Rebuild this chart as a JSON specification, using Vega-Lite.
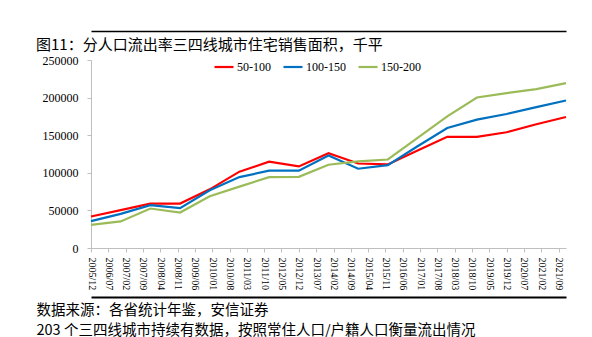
{
  "$schema": "https://vega.github.io/schema/vega-lite/v6.json",
  "autosize": "none",
  "width": 475,
  "height": 188,
  "padding": {"left": 91, "top": 60, "right": 26, "bottom": 89},
  "background": "white",
  "config": {"view": {"stroke": null}},
  "title": {
    "text": "图11：分人口流出率三四线城市住宅销售面积，千平",
    "anchor": "start",
    "frame": "group",
    "dx": -55,
    "offset": -34,
    "baseline": "alphabetic",
    "font": "Noto Sans CJK SC",
    "fontSize": 15,
    "fontWeight": "normal",
    "color": "#000000"
  },
  "data": {
    "values": [
      {"date": "2005-12-01", "series": "50-100", "value": 41900},
      {"date": "2006-12-01", "series": "50-100", "value": 50300},
      {"date": "2007-12-01", "series": "50-100", "value": 59100},
      {"date": "2008-12-01", "series": "50-100", "value": 59100},
      {"date": "2009-12-01", "series": "50-100", "value": 78000},
      {"date": "2010-12-01", "series": "50-100", "value": 101500},
      {"date": "2011-12-01", "series": "50-100", "value": 114700},
      {"date": "2012-12-01", "series": "50-100", "value": 108500},
      {"date": "2013-12-01", "series": "50-100", "value": 126100},
      {"date": "2014-12-01", "series": "50-100", "value": 112400},
      {"date": "2015-12-01", "series": "50-100", "value": 111100},
      {"date": "2016-12-01", "series": "50-100", "value": 129600},
      {"date": "2017-12-01", "series": "50-100", "value": 147800},
      {"date": "2018-12-01", "series": "50-100", "value": 147800},
      {"date": "2019-12-01", "series": "50-100", "value": 153900},
      {"date": "2020-12-01", "series": "50-100", "value": 164500},
      {"date": "2021-12-01", "series": "50-100", "value": 174200},
      {"date": "2005-12-01", "series": "100-150", "value": 35700},
      {"date": "2006-12-01", "series": "100-150", "value": 45400},
      {"date": "2007-12-01", "series": "100-150", "value": 56900},
      {"date": "2008-12-01", "series": "100-150", "value": 52900},
      {"date": "2009-12-01", "series": "100-150", "value": 76700},
      {"date": "2010-12-01", "series": "100-150", "value": 94300},
      {"date": "2011-12-01", "series": "100-150", "value": 102800},
      {"date": "2012-12-01", "series": "100-150", "value": 102800},
      {"date": "2013-12-01", "series": "100-150", "value": 123000},
      {"date": "2014-12-01", "series": "100-150", "value": 105400},
      {"date": "2015-12-01", "series": "100-150", "value": 110200},
      {"date": "2016-12-01", "series": "100-150", "value": 135300},
      {"date": "2017-12-01", "series": "100-150", "value": 159600},
      {"date": "2018-12-01", "series": "100-150", "value": 170700},
      {"date": "2019-12-01", "series": "100-150", "value": 178200},
      {"date": "2020-12-01", "series": "100-150", "value": 187400},
      {"date": "2021-12-01", "series": "100-150", "value": 196200},
      {"date": "2005-12-01", "series": "150-200", "value": 30800},
      {"date": "2006-12-01", "series": "150-200", "value": 35300},
      {"date": "2007-12-01", "series": "150-200", "value": 52500},
      {"date": "2008-12-01", "series": "150-200", "value": 47200},
      {"date": "2009-12-01", "series": "150-200", "value": 68800},
      {"date": "2010-12-01", "series": "150-200", "value": 81600},
      {"date": "2011-12-01", "series": "150-200", "value": 94300},
      {"date": "2012-12-01", "series": "150-200", "value": 94700},
      {"date": "2013-12-01", "series": "150-200", "value": 110700},
      {"date": "2014-12-01", "series": "150-200", "value": 115100},
      {"date": "2015-12-01", "series": "150-200", "value": 117700},
      {"date": "2016-12-01", "series": "150-200", "value": 146400},
      {"date": "2017-12-01", "series": "150-200", "value": 175000},
      {"date": "2018-12-01", "series": "150-200", "value": 200200},
      {"date": "2019-12-01", "series": "150-200", "value": 206000},
      {"date": "2020-12-01", "series": "150-200", "value": 211300},
      {"date": "2021-12-01", "series": "150-200", "value": 219200}
    ]
  },
  "encoding": {
    "x": {
      "field": "date",
      "type": "temporal",
      "scale": {
        "type": "utc",
        "domain": [
          {"year": 2005, "month": 12, "date": 1, "utc": true},
          {"year": 2021, "month": 12, "date": 1, "utc": true}
        ]
      },
      "axis": {
        "values": [
          {"year": 2005, "month": 12, "date": 1, "utc": true},
          {"year": 2006, "month": 7, "date": 1, "utc": true},
          {"year": 2007, "month": 2, "date": 1, "utc": true},
          {"year": 2007, "month": 9, "date": 1, "utc": true},
          {"year": 2008, "month": 4, "date": 1, "utc": true},
          {"year": 2008, "month": 11, "date": 1, "utc": true},
          {"year": 2009, "month": 6, "date": 1, "utc": true},
          {"year": 2010, "month": 1, "date": 1, "utc": true},
          {"year": 2010, "month": 8, "date": 1, "utc": true},
          {"year": 2011, "month": 3, "date": 1, "utc": true},
          {"year": 2011, "month": 10, "date": 1, "utc": true},
          {"year": 2012, "month": 5, "date": 1, "utc": true},
          {"year": 2012, "month": 12, "date": 1, "utc": true},
          {"year": 2013, "month": 7, "date": 1, "utc": true},
          {"year": 2014, "month": 2, "date": 1, "utc": true},
          {"year": 2014, "month": 9, "date": 1, "utc": true},
          {"year": 2015, "month": 4, "date": 1, "utc": true},
          {"year": 2015, "month": 11, "date": 1, "utc": true},
          {"year": 2016, "month": 6, "date": 1, "utc": true},
          {"year": 2017, "month": 1, "date": 1, "utc": true},
          {"year": 2017, "month": 8, "date": 1, "utc": true},
          {"year": 2018, "month": 3, "date": 1, "utc": true},
          {"year": 2018, "month": 10, "date": 1, "utc": true},
          {"year": 2019, "month": 5, "date": 1, "utc": true},
          {"year": 2019, "month": 12, "date": 1, "utc": true},
          {"year": 2020, "month": 7, "date": 1, "utc": true},
          {"year": 2021, "month": 2, "date": 1, "utc": true},
          {"year": 2021, "month": 9, "date": 1, "utc": true}
        ],
        "format": "%Y/%m",
        "labelAngle": 90,
        "labelAlign": "left",
        "labelBaseline": "middle",
        "labelFont": "Liberation Serif",
        "labelFontSize": 10,
        "labelColor": "#000000",
        "labelPadding": 5,
        "labelOverlap": false,
        "labelFlush": false,
        "grid": false,
        "domainColor": "#bfbfbf",
        "tickColor": "#bfbfbf",
        "tickSize": 4,
        "title": ["数据来源：各省统计年鉴，安信证券", "203 个三四线城市持续有数据，按照常住人口/户籍人口衡量流出情况"],
        "titleFont": "Noto Sans CJK SC",
        "titleFontSize": 14.5,
        "titleFontWeight": "normal",
        "titleColor": "#000000",
        "titleAlign": "left",
        "titleAnchor": "start",
        "titleBaseline": "alphabetic",
        "titleX": -55,
        "titleY": 66,
        "titleLineHeight": 20
      }
    },
    "y": {
      "field": "value",
      "type": "quantitative",
      "scale": {"domain": [0, 250000], "nice": false, "zero": true},
      "axis": {
        "values": [0, 50000, 100000, 150000, 200000, 250000],
        "format": "d",
        "labelFont": "Liberation Serif",
        "labelFontSize": 12,
        "labelColor": "#000000",
        "labelPadding": 9,
        "grid": false,
        "domainColor": "#bfbfbf",
        "tickColor": "#bfbfbf",
        "tickSize": 4,
        "title": null
      }
    },
    "color": {
      "field": "series",
      "type": "nominal",
      "scale": {
        "domain": ["50-100", "100-150", "150-200"],
        "range": ["#ff0000", "#0070c0", "#9bbb59"]
      },
      "legend": {
        "orient": "none",
        "legendX": 122,
        "legendY": -4,
        "direction": "horizontal",
        "title": null,
        "symbolType": "stroke",
        "symbolSize": 361,
        "symbolStrokeWidth": 2.2,
        "labelFont": "Liberation Serif",
        "labelFontSize": 12,
        "labelColor": "#000000",
        "labelOffset": 2,
        "columnPadding": 8
      }
    }
  },
  "layer": [
    {
      "transform": [{"filter": "datum.series === '50-100'"}],
      "mark": {"type": "line", "strokeWidth": 2.2}
    },
    {
      "transform": [{"filter": "datum.series === '100-150'"}],
      "mark": {"type": "line", "strokeWidth": 2.2},
      "encoding": {
        "x": {
          "field": "date",
          "type": "temporal",
          "axis": {
            "orient": "top",
            "offset": 29,
            "labels": false,
            "ticks": false,
            "grid": false,
            "title": null,
            "domainColor": "#000000",
            "domainWidth": 1.5
          }
        }
      }
    },
    {
      "transform": [{"filter": "datum.series === '150-200'"}],
      "mark": {"type": "line", "strokeWidth": 2.2},
      "encoding": {
        "x": {
          "field": "date",
          "type": "temporal",
          "axis": {
            "orient": "bottom",
            "offset": 49,
            "labels": false,
            "ticks": false,
            "grid": false,
            "title": null,
            "domainColor": "#000000",
            "domainWidth": 2
          }
        }
      }
    }
  ],
  "resolve": {"axis": {"x": "independent"}}
}
